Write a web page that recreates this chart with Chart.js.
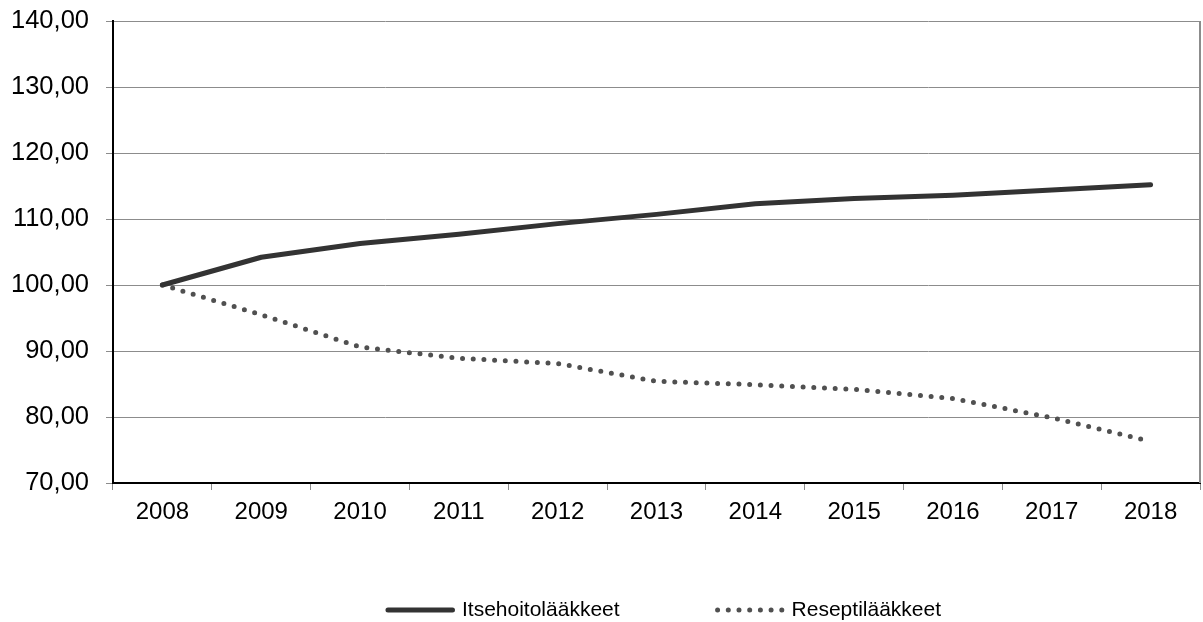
<!DOCTYPE html>
<html lang="fi">
<head>
<meta charset="utf-8">
<title>Itsehoitolääkkeet ja reseptilääkkeet</title>
<script src="https://cdn.jsdelivr.net/npm/chart.js@4/dist/chart.umd.min.js"></script>
<style>
    html, body { margin: 0; padding: 0; background: #fff; overflow: hidden; }
    #cadre { width: 1203px; height: 622px; }
</style>
</head>
<body>
<div id="cadre"><canvas id="chartIndeksi" width="1203" height="622"></canvas></div>
<script>
// ── DONNÉES ─────────────────────────────────────────────
// Années sur l'axe horizontal
const annees = ['2008', '2009', '2010', '2011', '2012', '2013', '2014', '2015', '2016', '2017', '2018'];

// Indice (2008 = 100)
const itsehoito = [100.0, 104.2, 106.3, 107.7, 109.3, 110.7, 112.3, 113.1, 113.6, 114.4, 115.2];
const resepti   = [100.0, 95.5, 90.6, 88.9, 88.1, 85.4, 84.9, 84.2, 82.8, 79.9, 76.3];

// Graduations de l'axe Y
const yMin = 70;
const yMax = 140;
const yPas = 10;

const police = "'Liberation Sans', Arial, sans-serif";

// Trait gris sur le bord droit de la zone du graphique
const bordDroit = {
    id: 'bordDroit',
    afterDraw(chart) {
        const { ctx, chartArea } = chart;
        ctx.save();
        ctx.strokeStyle = '#8c8c8c';
        ctx.lineWidth = 2;
        ctx.beginPath();
        ctx.moveTo(chartArea.right, chartArea.top);
        ctx.lineTo(chartArea.right, chartArea.bottom);
        ctx.stroke();
        ctx.restore();
    }
};

// Légende en bas : un échantillon du trait (plein ou pointillé) puis le nom.
// La légende intégrée ne permet pas d'écarter les deux entrées sans
// changer aussi sa hauteur, d'où ce petit plugin.
const legendeBas = {
    id: 'legendeBas',
    afterDraw(chart) {
        const { ctx, chartArea } = chart;
        const longueur = 64.5;  // longueur de l'échantillon
        const ecart = 9.5;      // entre l'échantillon et le texte
        const entre = 98;       // entre les deux entrées
        const y = chart.height - 12;

        ctx.save();
        ctx.font = '21px ' + police;
        ctx.textBaseline = 'middle';
        ctx.textAlign = 'left';

        const items = chart.data.datasets.map(ds => ({
            ds: ds,
            largeur: longueur + ecart + ctx.measureText(ds.label).width
        }));
        const total = items.reduce((s, it) => s + it.largeur, 0) + entre * (items.length - 1);
        let x = (chartArea.left + chartArea.right) / 2 + 8 - total / 2;

        items.forEach(it => {
            const ds = it.ds;
            ctx.save();
            ctx.strokeStyle = ds.borderColor;
            ctx.lineWidth = ds.borderWidth;
            ctx.lineCap = ds.borderCapStyle || 'butt';
            ctx.setLineDash(ds.borderDash || []);
            ctx.beginPath();
            ctx.moveTo(x, y);
            ctx.lineTo(x + longueur, y);
            ctx.stroke();
            ctx.restore();

            ctx.fillStyle = '#000';
            ctx.fillText(ds.label, x + longueur + ecart, y);
            x += it.largeur + entre;
        });
        ctx.restore();
    }
};

document.addEventListener('DOMContentLoaded', function () {
    const ctx = document.getElementById('chartIndeksi');

    new Chart(ctx, {
        type: 'line',
        data: {
            labels: annees,
            datasets: [
                {
                    label: 'Itsehoitolääkkeet',
                    data: itsehoito,
                    borderColor: '#333333',
                    backgroundColor: '#333333',
                    borderWidth: 5,
                    borderCapStyle: 'round',
                    borderJoinStyle: 'round',
                    pointRadius: 0,
                    tension: 0,
                },
                {
                    label: 'Reseptilääkkeet',
                    data: resepti,
                    borderColor: '#505050',
                    backgroundColor: '#505050',
                    borderWidth: 5,
                    borderDash: [0, 10.7],   // points ronds
                    borderCapStyle: 'round',
                    borderJoinStyle: 'round',
                    pointRadius: 0,
                    tension: 0,
                }
            ]
        },
        plugins: [bordDroit, legendeBas],
        options: {
            responsive: false,
            animation: false,
            layout: {
                padding: { top: 21, right: 3, left: 0, bottom: 95 }
            },
            plugins: {
                tooltip: { enabled: false },
                legend: { display: false }
            },
            scales: {
                x: {
                    offset: true,
                    grid: {
                        offset: true,
                        drawOnChartArea: false,
                        drawTicks: true,
                        tickLength: 7,
                        tickColor: '#8c8c8c'
                    },
                    border: { color: '#000', width: 2 },
                    ticks: {
                        color: '#000',
                        padding: 8,
                        maxRotation: 0,
                        font: { family: police, size: 24 }
                    },
                    afterFit: function (axis) { axis.height = 44; }
                },
                y: {
                    min: yMin,
                    max: yMax,
                    grid: {
                        color: '#8c8c8c',
                        tickLength: 7,
                        tickColor: '#8c8c8c'
                    },
                    border: { color: '#000', width: 2 },
                    ticks: {
                        stepSize: yPas,
                        color: '#000',
                        padding: 17,
                        font: { family: police, size: 25.5 },
                        callback: function (value) {
                            return value.toFixed(2).replace('.', ',');
                        }
                    },
                    // largeur fixe, et l'étiquette du haut peut déborder
                    afterFit: function (axis) {
                        axis.width = 113;
                        axis.paddingTop = 0;
                        axis.paddingBottom = 0;
                    }
                }
            }
        }
    });
});
</script>
</body>
</html>
